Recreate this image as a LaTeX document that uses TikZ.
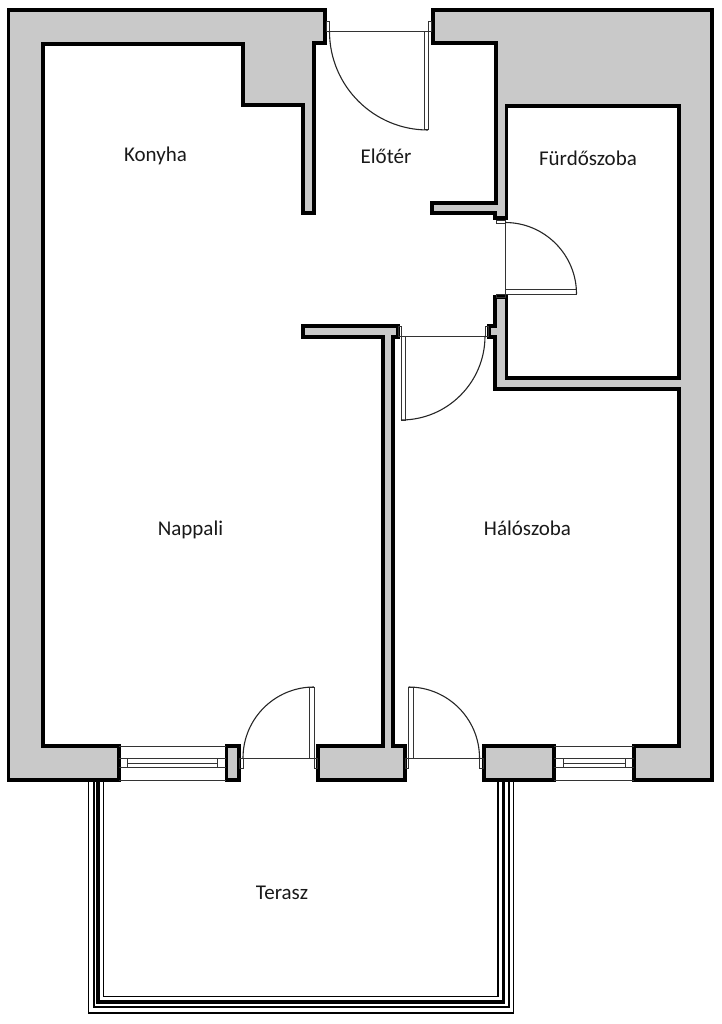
\documentclass[tikz,border=0pt]{standalone}
\usepackage{fontspec}
\setmainfont{Carlito}
\definecolor{wallgray}{HTML}{C9C9C9}
\tikzset{
  wall/.style={draw=black, fill=wallgray, line width=3.8pt, line join=miter},
  frame/.style={draw=black!80, line width=1pt},
  swing/.style={draw=black!85, line width=1.1pt},
  railing/.style={draw=black, line width=1.6pt},
  roomlabel/.style={font=\fontsize{21}{23}\selectfont, text=black!90}
}

\begin{document}
\begin{tikzpicture}[x=1pt, y=-1pt]
    \useasboundingbox (0,0) rectangle (721,1024);

    % walls
    \draw [wall] (8.5,10) -- (325,10) -- (325,43) -- (314,43) -- (314,213) -- (303,213) -- (303,105) -- (243,105) -- (243,44) -- (43,44) -- (43,746) -- (119,746) -- (119,780) -- (8.5,780) -- cycle;
    \draw [wall] (433,10) -- (712,10) -- (712,780) -- (634,780) -- (634,746) -- (679,746) -- (679,389) -- (495,389) -- (495,337) -- (489,337) -- (489,326) -- (495,326) -- (495,297) -- (506.5,297) -- (506.5,378) -- (679,378) -- (679,106) -- (506.5,106) -- (506.5,218) -- (495,218) -- (495,213) -- (432,213) -- (432,203) -- (496,203) -- (496,43) -- (433,43) -- cycle;
    \draw [wall] (303,326) -- (398,326) -- (398,337) -- (393,337) -- (393,746) -- (405,746) -- (405,780) -- (318,780) -- (318,746) -- (383,746) -- (383,337) -- (303,337) -- cycle;
    \draw [wall] (226.5,746) rectangle (239,780);
    \draw [wall] (484,746) rectangle (554,780);

    % left window
    \draw [frame] (119,746) -- (226,746);
    \draw [frame] (119,780) -- (226,780);
    \draw [frame] (119,758.5) -- (226,758.5);
    \draw [frame] (119,767.5) -- (226,767.5);
    \draw [frame] (127,758.5) rectangle (217,767.5);
    \draw [frame] (127,763.5) -- (217,763.5);

    % right window
    \draw [frame] (554,746) -- (634,746);
    \draw [frame] (554,780) -- (634,780);
    \draw [frame] (554,758.5) -- (634,758.5);
    \draw [frame] (554,767.5) -- (634,767.5);
    \draw [frame] (563,758.5) rectangle (625,767.5);
    \draw [frame] (563,763.5) -- (625,763.5);

    % entrance door
    \draw [frame] (326,22) rectangle (329.5,32);
    \draw [frame] (428,22) rectangle (431.5,32);
    \draw [frame] (326,31.5) -- (431,31.5);
    \draw [frame] (424,31.5) rectangle (428,130);
    \draw [swing] (329.5,31.5) arc [start angle=180, end angle=90, radius=98.5];

    % bathroom door
    \draw [frame] (496,220.5) rectangle (505,223.5);
    \draw [frame] (496,294) rectangle (505,297);
    \draw [frame] (505,221) -- (505,294);
    \draw [frame] (505,289) rectangle (576,294);
    \draw [swing] (505,222.5) arc [start angle=-90, end angle=0, radius=71.5];

    % bedroom door
    \draw [frame] (398,326) rectangle (401,336);
    \draw [frame] (485,326) rectangle (488,336);
    \draw [frame] (398,336) -- (487,336);
    \draw [frame] (401,336) rectangle (405.5,420);
    \draw [swing] (485,336) arc [start angle=0, end angle=90, radius=84];

    % living room door
    \draw [frame] (239,758) rectangle (243,768);
    \draw [frame] (314,758) rectangle (317,768);
    \draw [frame] (240,758) -- (317,758);
    \draw [frame] (309,687) rectangle (314,758);
    \draw [swing] (243,758) arc [start angle=180, end angle=270, radius=71];

    % bedroom balcony door
    \draw [frame] (405,758) rectangle (408.5,768);
    \draw [frame] (479,758) rectangle (483,768);
    \draw [frame] (405,758) -- (483,758);
    \draw [frame] (408.5,687) rectangle (413,758);
    \draw [swing] (479.5,758) arc [start angle=0, end angle=-90, radius=71];

    % terrace railing
    \draw [railing] (88.5,781) -- (88.5,1013) -- (513.5,1013) -- (513.5,781);
    \draw [railing] (94,781) -- (94,1007) -- (509,1007) -- (509,781);
    \draw [railing, line width=3.4pt] (98,781) -- (98,1002) -- (503.5,1002) -- (503.5,781);
    \draw [railing] (103.5,781) -- (103.5,996.5) -- (498,996.5) -- (498,781);

    \node [roomlabel] (konyha) at (155.5,155.5) {Konyha};
    \node [roomlabel] (eloter) at (386,156.5) {Előtér};
    \node [roomlabel] (furdo) at (588,158.5) {Fürdőszoba};
    \node [roomlabel] (nappali) at (190.5,529.5) {Nappali};
    \node [roomlabel] (haloszoba) at (527.5,528.5) {Hálószoba};
    \node [roomlabel] (terasz) at (282,892.5) {Terasz};
\end{tikzpicture}
\end{document}
